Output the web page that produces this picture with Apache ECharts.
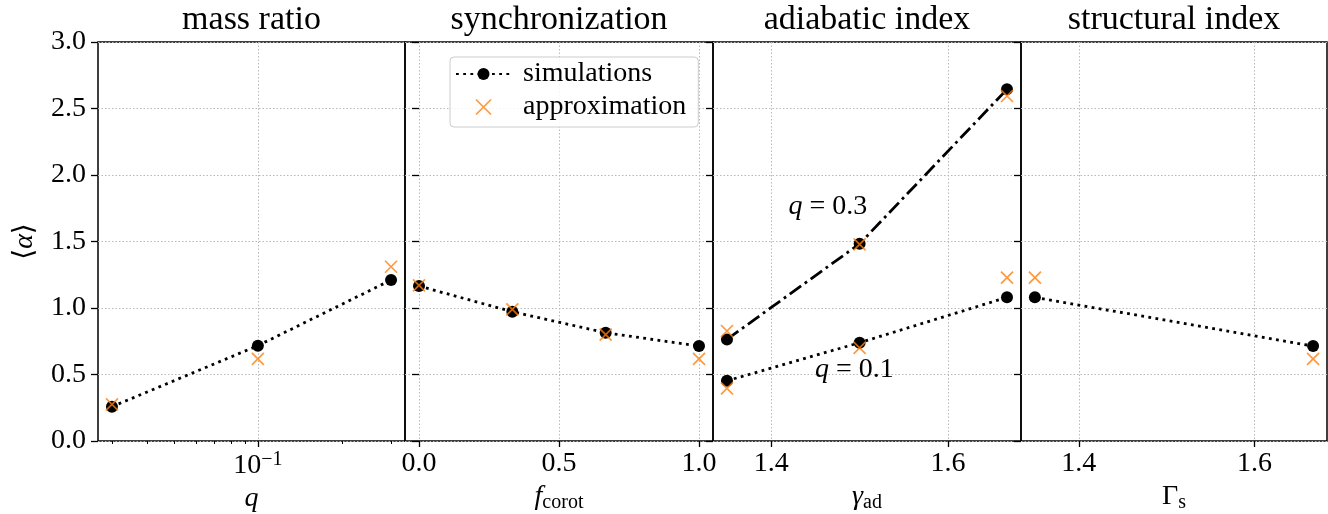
<!DOCTYPE html>
<html>
<head>
<meta charset="utf-8">
<script src="https://cdn.jsdelivr.net/npm/echarts@6/dist/echarts.min.js"></script>
<style>html,body{margin:0;padding:0;background:#fff;}#c{width:1328px;height:514px;}</style>
</head>
<body>
<div id="c"></div>
<script>
// ---------- data ----------
const panelTitles = ['mass ratio', 'synchronization', 'adiabatic index', 'structural index'];
const yTicks = [0, 0.5, 1.0, 1.5, 2.0, 2.5, 3.0];

const qVals = [0.03, 0.1, 0.3];
const massSim = [0.258, 0.717, 1.21];
const massApprox = [0.276, 0.617, 1.31];
const qMajorTicks = [0.1];
const qMinorTicks = [0.03, 0.04, 0.05, 0.06, 0.07, 0.08, 0.09, 0.2, 0.3];

const fcorot = [0, 1/3, 2/3, 1];
const syncSim = [1.165, 0.972, 0.814, 0.714];
const syncApprox = [1.17, 0.99, 0.80, 0.617];
const fTicks = [0, 0.5, 1.0];

const gammaAd = [1.35, 1.5, 5/3];
const adSimQ03 = [0.764, 1.483, 2.644];
const adApproxQ03 = [0.827, 1.479, 2.594];
const adSimQ01 = [0.453, 0.739, 1.08];
const adApproxQ01 = [0.396, 0.70, 1.228];
const gammaTicks = [1.4, 1.6];

const gammaS = [1.35, 5/3];
const structSim = [1.08, 0.714];
const structApprox = [1.228, 0.617];

const annoText = ['q = 0.3', 'q = 0.1'];
const annoX = [1.464, 1.494];
const annoY = [1.759, 0.534];

// ---------- style ----------
const FONT = '"Liberation Serif", "DejaVu Serif", serif';
const ORANGE = '#ff7f0e';
const XPATH = 'path://M0,0L10,10M10,0L0,10';
const DOT = [2.8, 4.4];
const DASHDOT = [14, 4.5, 2.8, 4.5];

const zip = (xs, ys) => xs.map((x, i) => [x, ys[i]]);
const lg = v => Math.log10(v);

const grids = [
  {left: 98, top: 42, width: 307, height: 399},
  {left: 405, top: 42, width: 308, height: 399},
  {left: 713, top: 42, width: 308, height: 399},
  {left: 1021, top: 42, width: 306, height: 399}
].map(g => Object.assign(g, {show: true, borderColor: '#000', borderWidth: 1.5, containLabel: false, outerBoundsMode: 'none'}));

const gridLine = {show: true, lineStyle: {color: '#b8b8b8', width: 1, type: [1.5, 2]}};
const labelStyle = {fontSize: 28, fontFamily: FONT, color: '#000'};
const nameRich = {
  i: {fontSize: 28, fontFamily: FONT, fontStyle: 'italic', color: '#000'},
  n: {fontSize: 28, fontFamily: FONT, color: '#000'},
  s: {fontSize: 20, fontFamily: FONT, color: '#000', padding: [12, 0, 0, 0]}
};

function xAxisBase(gi, min, max, ticks, fmt, name) {
  return {
    type: 'value', gridIndex: gi, position: 'bottom', min: min, max: max,
    axisLine: {show: false},
    axisTick: {show: true, customValues: ticks, length: 6, lineStyle: {color: '#000', width: 1.3}},
    axisLabel: Object.assign({show: true, customValues: ticks, formatter: fmt, margin: 9,
      rich: {n: {fontSize: 28, fontFamily: FONT, color: '#000'}, sup: {fontSize: 20, fontFamily: FONT, color: '#000', padding: [0, 0, 12, 0]}}}, labelStyle),
    splitLine: gridLine,
    name: name, nameLocation: 'middle', nameGap: 40,
    nameTextStyle: {fontSize: 28, fontFamily: FONT, color: '#000', rich: nameRich}
  };
}

const xMin1 = lg(qVals[0]) - 0.05, xMax1 = lg(qVals[2]) + 0.05;
const xAxes = [
  xAxisBase(0, xMin1, xMax1, qMajorTicks.map(lg), v => Math.abs(v + 1) < 1e-6 ? '{n|10}{sup|−1}' : '', '{i|q}'),
  xAxisBase(1, -0.05, 1.05, fTicks, v => v.toFixed(1), '{i|f}{s|corot}'),
  xAxisBase(2, 1.3342, 1.6825, gammaTicks, v => v.toFixed(1), '{i|γ}{s|ad}'),
  xAxisBase(3, 1.3342, 1.6825, gammaTicks, v => v.toFixed(1), '{n|Γ}{s|s}'),
  {
    type: 'value', gridIndex: 0, position: 'bottom', min: xMin1, max: xMax1,
    axisLine: {show: false},
    axisTick: {show: true, customValues: qMinorTicks.map(lg), length: 3, lineStyle: {color: '#000', width: 1}},
    axisLabel: {show: false}, splitLine: {show: false}
  }
];

const yAxes = [0, 1, 2, 3].map(gi => ({
  type: 'value', gridIndex: gi, min: 0, max: 3, interval: 0.5,
  axisLine: {show: false},
  axisTick: {show: true, length: 7, lineStyle: {color: '#000', width: 1.3}},
  axisLabel: Object.assign({show: gi === 0, margin: 12, formatter: v => v.toFixed(1)}, labelStyle),
  splitLine: gridLine,
  name: gi === 0 ? '{n|⟨}{i|α}{n|⟩}' : '', nameLocation: 'middle', nameGap: 59, nameRotate: 90,
  nameTextStyle: {fontSize: 28, fontFamily: FONT, color: '#000', rich: nameRich}
}));

function simLine(gi, xs, ys, dash) {
  return {
    type: 'line', name: 'simulations', xAxisIndex: gi, yAxisIndex: gi, z: 3,
    data: zip(xs, ys), symbol: 'circle', symbolSize: 12, showSymbol: true,
    itemStyle: {color: '#000'},
    lineStyle: {color: '#000', width: 2.8, type: dash, cap: 'butt'},
    animation: false, silent: true
  };
}
function approx(gi, xs, ys) {
  return {
    type: 'scatter', name: 'approximation', xAxisIndex: gi, yAxisIndex: gi, z: 5,
    data: zip(xs, ys), symbol: XPATH, symbolSize: 12,
    itemStyle: {color: 'rgba(0,0,0,0)', borderColor: ORANGE, borderWidth: 1.7},
    animation: false, silent: true
  };
}

const series = [
  simLine(0, qVals.map(lg), massSim, DOT),
  simLine(1, fcorot, syncSim, DOT),
  simLine(2, gammaAd, adSimQ03, DASHDOT),
  simLine(2, gammaAd, adSimQ01, DOT),
  simLine(3, gammaS, structSim, DOT),
  approx(0, qVals.map(lg), massApprox),
  approx(1, fcorot, syncApprox),
  approx(2, gammaAd, adApproxQ03),
  approx(2, gammaAd, adApproxQ01),
  approx(3, gammaS, structApprox),
  {
    type: 'scatter', xAxisIndex: 2, yAxisIndex: 2, symbolSize: 1, z: 6,
    itemStyle: {color: 'rgba(0,0,0,0)'}, silent: true, animation: false,
    data: annoText.map((t, i) => ({value: [annoX[i], annoY[i]], name: t})),
    label: {show: true, position: 'inside', color: '#000', textBorderWidth: 0, opacity: 1,
      formatter: p => '{i|q}{n| = ' + p.name.split('= ')[1] + '}',
      rich: {i: {fontSize: 28, fontFamily: FONT, fontStyle: 'italic', color: '#000', textBorderWidth: 0},
             n: {fontSize: 28, fontFamily: FONT, color: '#000', textBorderWidth: 0}}}
  }
];

const graphics = panelTitles.map((t, i) => ({
  type: 'text', x: grids[i].left + grids[i].width / 2, y: 20, silent: true,
  style: {text: t, fontSize: 34, fontFamily: FONT, fill: '#000',
    textAlign: 'center', textVerticalAlign: 'middle', align: 'center', verticalAlign: 'middle'}
}));

const chart = echarts.init(document.getElementById('c'), null, {renderer: 'canvas'});
chart.setOption({
  backgroundColor: '#fff',
  animation: false,
  grid: grids,
  xAxis: xAxes,
  yAxis: yAxes,
  series: series,
  graphic: graphics,
  legend: {
    left: 450, top: 57, orient: 'vertical', z: 10,
    itemWidth: 55, itemHeight: 15, itemGap: 5,
    padding: [3, 12, 6, 5],
    borderColor: '#cccccc', borderWidth: 1, borderRadius: 4,
    backgroundColor: 'rgba(255,255,255,0.85)',
    textStyle: {fontSize: 28, fontFamily: FONT, color: '#000', padding: [0, 0, 0, 7]},
    data: [
      {name: 'simulations'},
      {name: 'approximation', icon: XPATH, itemStyle: {color: 'rgba(0,0,0,0)', borderColor: ORANGE, borderWidth: 1.7}}
    ],
    selectedMode: false
  }
});
</script>
</body>
</html>
